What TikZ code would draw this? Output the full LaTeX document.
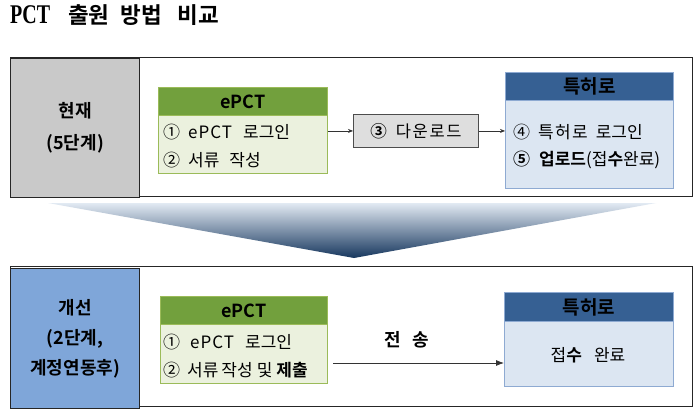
\documentclass[tikz,border=0pt]{standalone}
\usepackage{fontspec}
\setmainfont{Noto Sans CJK KR}[BoldFont={* Bold}]
\newfontfamily\titleser{Liberation Serif Bold}[FakeStretch=0.74]
\usetikzlibrary{arrows.meta}
\definecolor{grcell}{HTML}{C9C9C9}
\definecolor{blcell}{HTML}{7FA6D9}
\definecolor{ghead}{HTML}{72A03D}
\definecolor{gbody}{HTML}{EBF1DE}
\definecolor{gline}{HTML}{9BBB59}
\definecolor{bhead}{HTML}{366093}
\definecolor{bbody}{HTML}{DCE6F2}
\definecolor{bline}{HTML}{8EAAD2}
\definecolor{dlfill}{HTML}{DEDEDE}
\definecolor{tritop}{HTML}{E2EAF3}
\definecolor{tribot}{HTML}{17375E}
\newcommand\spaced[1]{\addfontfeature{LetterSpace=#1}}
\tikzset{
  frame/.style={draw=black!85, line width=1.3pt, anchor=north west, inner sep=0pt},
  cell/.style={draw=black!85, line width=1.3pt, anchor=north west, inner sep=0pt, align=center},
  ghd/.style={fill=ghead, draw=gline, line width=0.8pt, anchor=north west, inner sep=0pt, font=\bfseries\fontsize{18}{19}\selectfont},
  gbd/.style={fill=gbody, draw=gline, line width=0.8pt, anchor=north west, inner sep=0pt},
  bhd/.style={fill=bhead, draw=bline, line width=0.8pt, anchor=north west, inner sep=0pt, font=\bfseries\fontsize{19}{20}\selectfont},
  bbd/.style={fill=bbody, draw=bline, line width=0.8pt, anchor=north west, inner sep=0pt},
  row/.style={anchor=west, inner sep=0pt, font=\fontsize{17}{18}\selectfont},
  arr/.style={-{Stealth[length=5pt,width=4pt]}, line width=0.7pt, black!80},
  arrb/.style={-{Latex[length=8pt,width=6pt]}, line width=0.8pt, black!80}
}
\begin{document}
\begin{tikzpicture}[x=1pt,y=-1pt]
\useasboundingbox[fill=white] (0,0) rectangle (700,417);
% title
\node[anchor=west, inner sep=0pt] (title) at (10,15) {\bfseries\fontsize{22.5}{24}\selectfont{\titleser\fontsize{27}{27}\selectfont PCT}\hspace{18pt}출원\hspace{11pt}방법\hspace{16pt}비교};
% top section
\node[frame, minimum width=682, minimum height=139] (topframe) at (10,57) {};
\node[cell, fill=grcell, minimum width=129, minimum height=139, font=\bfseries\fontsize{18}{32}\selectfont] (topcell) at (10,58) {현재\\(5단계)};
\node[gbd, minimum width=169, minimum height=58] (e1body) at (158,115) {};
\node[ghd, minimum width=169, minimum height=28] (e1head) at (158,87) {ePCT};
\node[row] (e1r1) at (163,132) {①\hspace{8pt}{\spaced{6}ePCT}\hspace{11pt}로그인};
\node[row] (e1r2) at (163,160) {②\hspace{8pt}서류\hspace{10pt}작성};
\node[draw=black!70, line width=0.9pt, fill=dlfill, anchor=north west, minimum width=125, minimum height=33, inner sep=0pt, font=\fontsize{16.5}{17}\selectfont] (dl) at (353,114) {\textbf{③}\hspace{9pt}{\spaced{10}다운로드}};
\node[bbd, minimum width=168, minimum height=88] (p1body) at (505,100) {};
\node[bhd, minimum width=168, minimum height=28] (p1head) at (505,72) {특허로};
\node[row] (p1r1) at (513,132) {④\hspace{8pt}{\spaced{8}특허로}\hspace{8pt}로그인};
\node[row] (p1r2) at (513,160) {\textbf{⑤}\hspace{9pt}\textbf{업로드}(접\textbf{수}완료)};
\draw[arr] (dl.west -| e1body.east) -- (dl.west);
\draw[arr] (dl.east) -- (dl.east -| p1body.west);
% funnel
\shade[top color=tritop, bottom color=tribot] (48,203) -- (656,203) -- (354,258) -- cycle;
% bottom section
\node[frame, minimum width=682, minimum height=140] (botframe) at (10,266) {};
\node[cell, fill=blcell, minimum width=129, minimum height=140, font=\bfseries\fontsize{18}{30}\selectfont] (botcell) at (10,268) {개선\\(2단계,\\계정연동후)};
\node[gbd, minimum width=167, minimum height=59] (e2body) at (160,324) {};
\node[ghd, minimum width=167, minimum height=28] (e2head) at (160,296) {ePCT};
\node[row] (e2r1) at (163,342) {①\hspace{10pt}{\spaced{6}ePCT}\hspace{11pt}로그인};
\node[row] (e2r2) at (163,370) {②\hspace{7pt}서류\hspace{3pt}작성\hspace{4pt}및\hspace{4pt}\textbf{제출}};
\node[bbd, minimum width=169, minimum height=65] (p2body) at (504,321) {};
\node[bhd, minimum width=169, minimum height=29] (p2head) at (504,292) {특허로};
\node[inner sep=0pt, font=\fontsize{17}{18}\selectfont] (p2txt) at (588,355) {접\textbf{수}\hspace{12pt}완료};
\coordinate (a0) at (333,363);
\draw[arrb] (a0) -- (a0 -| p2body.west);
\node[inner sep=0pt, font=\bfseries\fontsize{18}{19}\selectfont] (send) at (407,340) {전\hspace{12pt}송};
\end{tikzpicture}
\end{document}
